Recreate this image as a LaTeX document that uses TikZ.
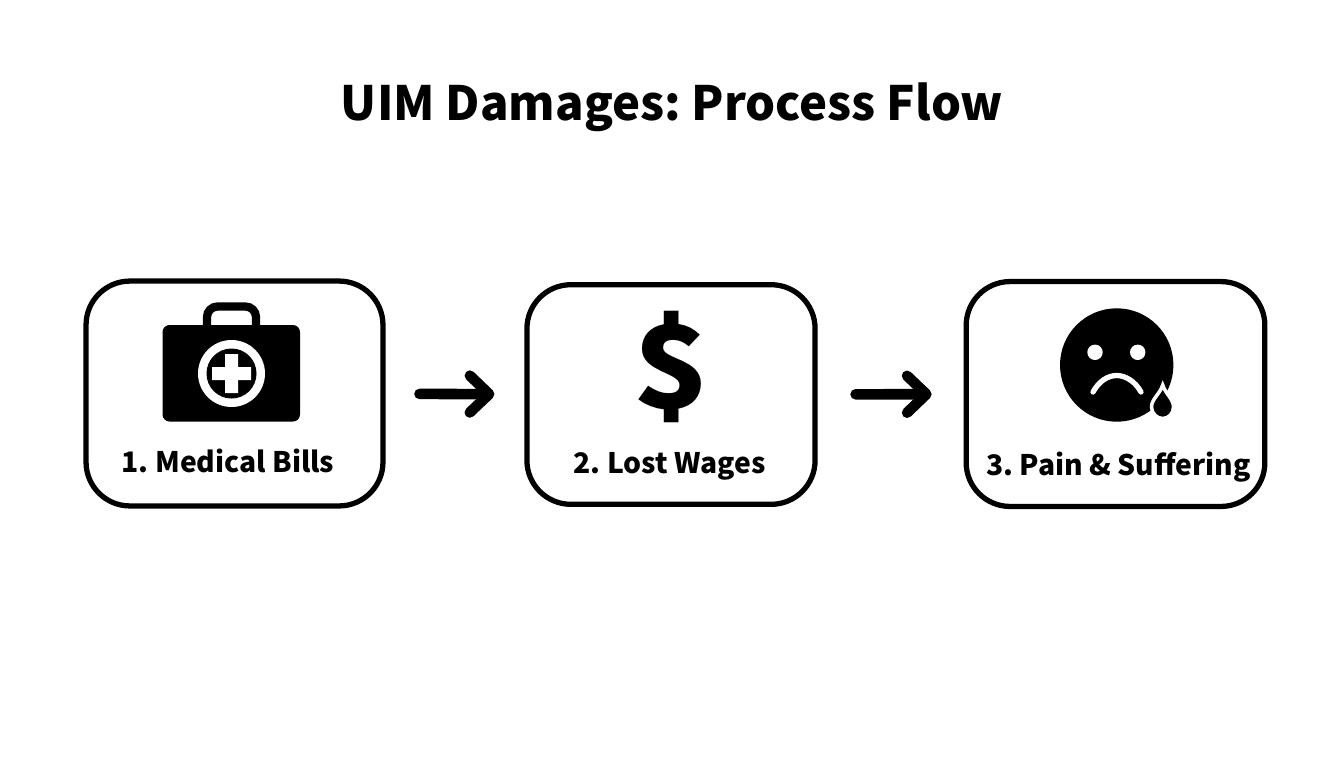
\documentclass[tikz,border=0pt]{standalone}
\usepackage{fontspec}
\setmainfont{Noto Sans CJK SC}
\usetikzlibrary{arrows.meta}
\newdimen\pxu
\pxu=0.567pt
\frenchspacing
\tikzset{
  stepbox/.style={draw=black,line width=3pt,rounded corners=25pt,inner sep=0pt},
  steplabel/.style={anchor=base,font=\bfseries\fontsize{16.1}{19}\selectfont},
  flowarrow/.style={line width=6pt,line cap=round,line join=round,yshift=0.5pt,
    -{Straight Barb[round,length=11pt,width=21pt,line width=6pt]}},
}
\begin{document}
\begin{tikzpicture}[x=0.02cm,y=-0.02cm]
        \useasboundingbox (0,0) rectangle (1344,768) ;
        \node[anchor=base,font=\bfseries\fontsize{26.9}{32}\selectfont] (title) at (672,120.5) {UIM Damages: Process Flow} ;
        % boxes
        \node[stepbox,minimum width=169pt,minimum height=128pt] (medical) at (234.5,393.5) {} ;
        \node[stepbox,minimum width=164pt,minimum height=125pt] (wages) at (671,394.5) {} ;
        \node[stepbox,minimum width=170pt,minimum height=128pt] (pain) at (1115.5,394) {} ;
        \draw[flowarrow,shorten <=34\pxu,shorten >=30\pxu] (medical) -- (wages) ;
        \draw[flowarrow,shorten <=38\pxu,shorten >=32\pxu] (wages) -- (pain) ;
        % case
        \draw[line width=4.7pt,rounded corners=6pt] (207,330) -- (207,306.5) -- (256,306.5) -- (256,330) ;
        \fill[rounded corners=4pt] (162.5,325) rectangle (300,421.5) ;
        \fill[white] (231.5,373.5) circle (33.5) ;
        \fill[black] (231.5,373.5) circle (25) ;
        \fill[white] (225,354) -- (238,354) -- (238,367) -- (251,367) -- (251,380) -- (238,380)
        -- (238,393) -- (225,393) -- (225,380) -- (212,380) -- (212,367) -- (225,367) -- cycle ;
        \node[steplabel] (medicallabel) at (228,472) {1. Medical Bills} ;
        % dollar
        \node[font=\bfseries\fontsize{65}{80}\selectfont,inner sep=0pt,xscale=1.1] (dollar) at (672,366.5) {\$} ;
        \node[steplabel] (wageslabel) at (669.5,473) {2. Lost Wages} ;
        % face
        \fill (1116.7,365) circle (56.7) ;
        \fill[white] (1095,352.3) circle (7.7) ;
        \fill[white] (1137.7,352.3) circle (7.7) ;
        \draw[white,line width=3pt,line cap=round] (1093,392) .. controls (1099,381) and (1108,375.5) .. (1116.7,375.5)
        .. controls (1125,375.5) and (1135,381) .. (1141,392) ;
        \draw[fill=black,draw=white,line width=2pt] (1162.7,385) .. controls (1160,394) and (1151.5,399) .. (1151.5,407)
        .. controls (1151.5,413.5) and (1157,418.5) .. (1162.7,418.5)
        .. controls (1168.5,418.5) and (1173.5,413.5) .. (1173.5,407)
        .. controls (1173.5,399) and (1165.5,394) .. (1162.7,385) -- cycle ;
        \node[steplabel] (painlabel) at (1118.5,475) {3. Pain \& Suffering} ;
\end{tikzpicture}
\end{document}
